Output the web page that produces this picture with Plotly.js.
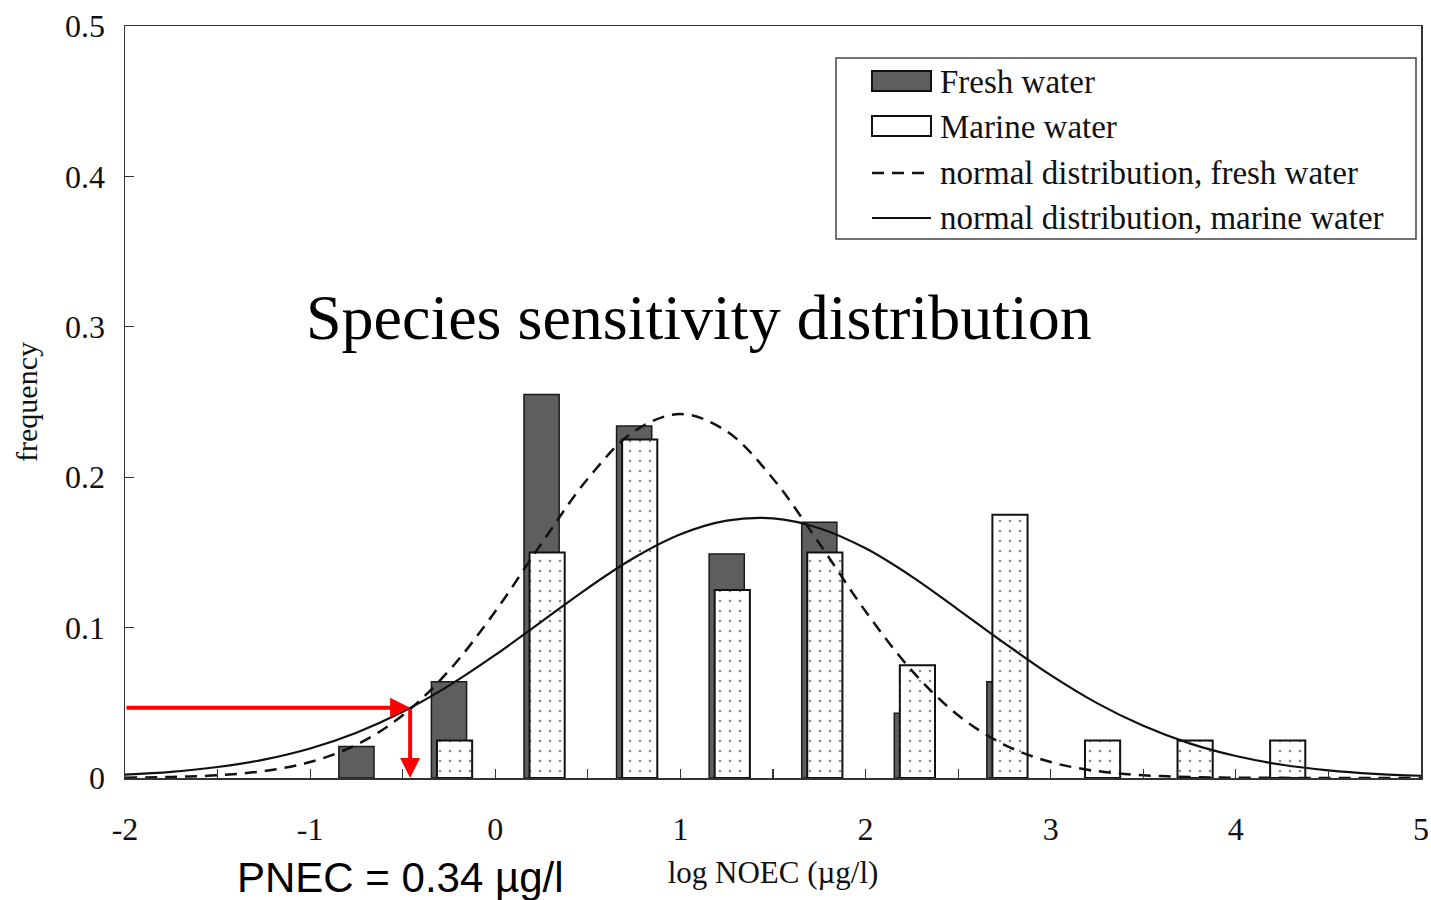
<!DOCTYPE html>
<html><head><meta charset="utf-8">
<script src="https://cdn.plot.ly/plotly-3.0.1.min.js"></script>
<style>html,body{margin:0;padding:0;background:#fff}#chart{width:1431px;height:900px}</style>
</head><body><div id="chart"></div>
<script>
// ---- data ----
const freshBins = [-0.75, -0.25, 0.25, 0.75, 1.25, 1.75, 2.25, 2.75];
const freshFreq = [0.021, 0.064, 0.255, 0.234, 0.149, 0.170, 0.043, 0.064];
const marineBins = [-0.25, 0.25, 0.75, 1.25, 1.75, 2.25, 2.75, 3.25, 3.75, 4.25];
const marineFreq = [0.025, 0.150, 0.225, 0.125, 0.150, 0.075, 0.175, 0.025, 0.025, 0.025];
const curveX = [-2, -1.75, -1.5, -1.25, -1, -0.75, -0.5, -0.25, 0, 0.25, 0.5, 0.75, 1, 1.25, 1.5, 1.75, 2, 2.25, 2.5, 2.75, 3, 3.25, 3.5, 3.75, 4, 4.25, 4.5, 4.75, 5];
const freshCurve = [0.0002, 0.0007, 0.0018, 0.0046, 0.0106, 0.0221, 0.0417, 0.0714, 0.1108, 0.156, 0.199, 0.2305, 0.242, 0.2305, 0.199, 0.156, 0.1108, 0.0714, 0.0417, 0.0221, 0.0106, 0.0046, 0.0018, 0.0007, 0.0002, 0.0001, 0, 0, 0];
const marineCurve = [0.0022, 0.0041, 0.0073, 0.0122, 0.0196, 0.0301, 0.044, 0.0614, 0.0818, 0.104, 0.1263, 0.1464, 0.162, 0.1711, 0.1726, 0.1661, 0.1527, 0.1339, 0.112, 0.0897, 0.0684, 0.0498, 0.0347, 0.023, 0.0146, 0.0088, 0.0051, 0.0028, 0.0015];
const xTickVals = [-2, -1, 0, 1, 2, 3, 4, 5];
const xTickText = ['-2', '-1', '0', '1', '2', '3', '4', '5'];
const yTickVals = [0, 0.1, 0.2, 0.3, 0.4, 0.5];
const yTickText = ['0', '0.1', '0.2', '0.3', '0.4', '0.5'];
const seriesNames = ['Fresh water', 'Marine water', 'normal distribution, fresh water', 'normal distribution, marine water'];
const pnecLog = -0.46;
const pnecFreq = 0.0467;
const chartTitle = 'Species sensitivity distribution';
const pnecText = 'PNEC = 0.34 µg/l';
const xTitle = 'log NOEC (µg/l)';
const yTitle = 'frequency';

// ---- layout geometry ----
const W = 1431, H = 900;
const M = {l: 125, r: 10, t: 26, b: 122};
const PW = W - M.l - M.r, PH = H - M.t - M.b;
const X = px => (px - M.l) / PW;
const Y = py => (H - M.b - py) / PH;
const serif = 'Liberation Serif, Times New Roman, serif';

const traces = [
  {type: 'bar', x: freshBins, y: freshFreq, name: seriesNames[0], width: 0.19, offset: -0.095,
   marker: {color: '#5e5e5e', line: {color: '#1a1a1a', width: 1.5}}},
  {type: 'bar', x: marineBins, y: marineFreq, name: seriesNames[1], width: 0.19, offset: -0.065,
   marker: {color: 'white', line: {color: '#111', width: 2},
            pattern: {shape: '.', bgcolor: 'white', fgcolor: '#888', size: 10, solidity: 0.05}}},
  {type: 'scatter', mode: 'lines', x: curveX, y: freshCurve, name: seriesNames[2],
   line: {color: '#111', width: 2.5, dash: '12px,8px', shape: 'spline', smoothing: 1}},
  {type: 'scatter', mode: 'lines', x: curveX, y: marineCurve, name: seriesNames[3],
   line: {color: '#111', width: 2.2, shape: 'spline', smoothing: 1}}
];

const legendRows = [82, 127, 173, 218];
const shapes = [
  {type: 'rect', xref: 'paper', yref: 'paper', x0: X(836), x1: X(1416), y0: Y(239), y1: Y(58),
   line: {color: '#444', width: 1.5}, fillcolor: 'white', layer: 'above'},
  {type: 'rect', xref: 'paper', yref: 'paper', x0: X(872), x1: X(931), y0: Y(91), y1: Y(71),
   line: {color: '#111', width: 2}, fillcolor: '#5e5e5e', layer: 'above'},
  {type: 'rect', xref: 'paper', yref: 'paper', x0: X(872), x1: X(931), y0: Y(136), y1: Y(116),
   line: {color: '#111', width: 2}, fillcolor: 'white', layer: 'above'},
  {type: 'line', xref: 'paper', yref: 'paper', x0: X(872), x1: X(931), y0: Y(legendRows[2]), y1: Y(legendRows[2]),
   line: {color: '#111', width: 2.5, dash: '12px,8px'}, layer: 'above'},
  {type: 'line', xref: 'paper', yref: 'paper', x0: X(872), x1: X(931), y0: Y(legendRows[3]), y1: Y(legendRows[3]),
   line: {color: '#111', width: 2.2}, layer: 'above'}
];

const annotations = seriesNames.map((t, i) => ({
  xref: 'paper', yref: 'paper', x: X(938), y: Y(legendRows[i]), xanchor: 'left', yanchor: 'middle',
  text: t, showarrow: false, font: {family: serif, size: 33, color: '#111'}
}));
annotations.push(
  {xref: 'x', yref: 'y', x: 1.1, y: 0.306, xanchor: 'center', yanchor: 'middle', text: chartTitle, showarrow: false,
   font: {family: serif, size: 64, color: '#000'}},
  {xref: 'paper', yref: 'paper', x: X(400), y: Y(878), xanchor: 'center', yanchor: 'middle', text: pnecText, showarrow: false,
   font: {family: 'Liberation Sans, Arial, sans-serif', size: 42, color: '#000'}},
  {xref: 'x', yref: 'y', axref: 'x', ayref: 'y', x: pnecLog, y: pnecFreq, ax: -2, ay: pnecFreq,
   text: '', showarrow: true, arrowhead: 2, arrowsize: 1, arrowwidth: 4, arrowcolor: '#ff0000'},
  {xref: 'x', yref: 'y', axref: 'x', ayref: 'y', x: pnecLog, y: 0, ax: pnecLog, ay: pnecFreq,
   text: '', showarrow: true, arrowhead: 2, arrowsize: 1, arrowwidth: 4, arrowcolor: '#ff0000'}
);

const layout = {
  width: W, height: H, margin: M, paper_bgcolor: 'white', plot_bgcolor: 'white',
  barmode: 'overlay', showlegend: false,
  font: {family: serif, color: '#111'},
  xaxis: {range: [-2, 5], tickmode: 'array', tickvals: xTickVals, ticktext: xTickText,
          ticks: 'inside', ticklen: 9, tickwidth: 1.2, tickcolor: '#333',
          minor: {ticks: 'inside', dtick: 0.5, tick0: 0, ticklen: 9, tickwidth: 1.2, tickcolor: '#333'},
          showline: true, linecolor: '#333', linewidth: 1.5, mirror: true,
          showgrid: false, zeroline: false, ticklabelstandoff: 22,
          tickfont: {family: serif, size: 32, color: '#111'},
          title: {text: xTitle, standoff: 15, font: {family: serif, size: 31, color: '#111'}}},
  yaxis: {range: [0, 0.5], tickmode: 'array', tickvals: yTickVals, ticktext: yTickText,
          ticks: 'inside', ticklen: 9, tickwidth: 1.2, tickcolor: '#333',
          showline: true, linecolor: '#333', linewidth: 1.5, mirror: true,
          showgrid: false, zeroline: false, ticklabelstandoff: 12,
          tickfont: {family: serif, size: 32, color: '#111'},
          title: {text: yTitle, standoff: 18, font: {family: serif, size: 30, color: '#111'}}},
  shapes: shapes, annotations: annotations
};

Plotly.newPlot('chart', traces, layout, {staticPlot: true, displayModeBar: false});
</script></body></html>
